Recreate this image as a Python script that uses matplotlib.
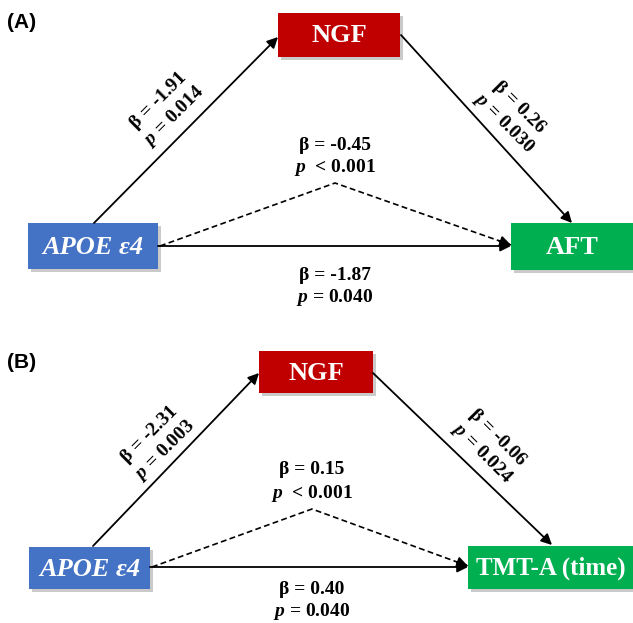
import matplotlib
matplotlib.use("Agg")
import matplotlib.pyplot as plt
from matplotlib.patches import Rectangle
import numpy as np

plt.rcParams['mathtext.fontset'] = 'custom'
plt.rcParams['mathtext.it'] = 'Liberation Serif:italic:bold'
plt.rcParams['mathtext.rm'] = 'Liberation Serif:bold'
plt.rcParams['mathtext.bf'] = 'Liberation Serif:bold'

# ---- data ----
panel_labels = ["(A)", "(B)"]
predictors = ["APOE ε4", "APOE ε4"]
mediators = ["NGF", "NGF"]
outcomes = ["AFT", "TMT-A (time)"]
a_beta = ["-1.91", "-2.31"]
a_p = ["= 0.014", "= 0.003"]
b_beta = ["0.26", "-0.06"]
b_p = ["= 0.030", "= 0.024"]
ind_beta = ["-0.45", "0.15"]
ind_p = ["< 0.001", "< 0.001"]
c_beta = ["-1.87", "0.40"]
c_p = ["= 0.040", "= 0.040"]

# ---- layout (pixel coordinates) ----
W, H = 633, 623
layout = [
    dict(lab=(7, 23), med=(278, 13, 400, 57), pre=(28, 223, 158, 269), out=(511, 223, 640, 270),
         a=((94, 223), (278, 37)), b=((401, 35), (572, 223)),
         c=((158, 246), (511, 246)), d=((160, 246), (335, 183), (511, 245)),
         ind=(335, 145), dir=(335, 275), atxt=(167, 109), btxt=(511, 116), out_fs=19),
    dict(lab=(7, 362), med=(259, 351, 373, 393), pre=(29, 547, 150, 589), out=(468, 546, 640, 589),
         a=((93, 546), (259, 373)), b=((373, 373), (552, 545)),
         c=((150, 567), (468, 567)), d=((152, 567), (312, 509), (468, 566)),
         ind=(312, 470), dir=(312, 590), atxt=(158, 443), btxt=(489, 446), out_fs=18),
]

RED = "#C00000"
BLUE = "#4472C4"
GREEN = "#00B050"

fig = plt.figure(figsize=(W / 100, H / 100), dpi=100)
ax = fig.add_axes([0, 0, 1, 1])
ax.set_xlim(0, W)
ax.set_ylim(H, 0)
ax.axis('off')

serif = 'Liberation Serif'
lab_fs = 14
box_fs = 19


def box(rect, color, text, italic=False, fs=box_fs):
    x0, y0, x1, y1 = rect
    ax.add_patch(Rectangle((x0 + 3, y0 + 3), x1 - x0, y1 - y0, facecolor='#a0a0a0',
                           edgecolor='none', alpha=0.55, zorder=1))
    ax.add_patch(Rectangle((x0, y0), x1 - x0, y1 - y0, facecolor=color, edgecolor='none', zorder=2))
    xc = (x0 + min(x1, W)) / 2
    ax.text(xc, (y0 + y1) / 2 + 1, text, color='white', fontsize=fs, fontfamily=serif,
            fontweight='bold', fontstyle='italic' if italic else 'normal',
            ha='center', va='center', zorder=3)


def arrow(p0, p1, ls='-'):
    ax.annotate('', xy=p1, xytext=p0,
                arrowprops=dict(arrowstyle='-|>', lw=1.3, color='black', linestyle=ls,
                                mutation_scale=16, shrinkA=0, shrinkB=0), zorder=4)


for i, L in enumerate(layout):
    ax.text(L['lab'][0], L['lab'][1], panel_labels[i], fontsize=15, fontweight='bold',
            fontfamily='Liberation Sans', ha='left', va='center')
    box(L['med'], RED, mediators[i])
    box(L['pre'], BLUE, predictors[i], italic=True)
    box(L['out'], GREEN, outcomes[i], fs=L['out_fs'])

    arrow(*L['a'])
    arrow(*L['b'])
    arrow(*L['c'])
    d0, d1, d2 = L['d']
    ax.plot([d0[0], d1[0], d2[0]], [d0[1], d1[1], d2[1]], color='black', lw=1.2,
            linestyle=(0, (3.5, 2)), zorder=4)
    t = 0.93
    arrow((d1[0] + t * (d2[0] - d1[0]), d1[1] + t * (d2[1] - d1[1])), d2)

    # horizontal labels
    ax.text(L['ind'][0], L['ind'][1], "β = " + ind_beta[i], fontsize=lab_fs, fontfamily=serif,
            fontweight='bold', ha='center', va='center')
    ax.text(L['ind'][0], L['ind'][1] + 23, r"$p$  " + ind_p[i], fontsize=lab_fs, fontfamily=serif,
            fontweight='bold', ha='center', va='center')
    ax.text(L['dir'][0], L['dir'][1], "β = " + c_beta[i], fontsize=lab_fs, fontfamily=serif,
            fontweight='bold', ha='center', va='center')
    ax.text(L['dir'][0], L['dir'][1] + 22, r"$p$ " + c_p[i], fontsize=lab_fs, fontfamily=serif,
            fontweight='bold', ha='center', va='center')

    # rotated labels
    ax.text(L['atxt'][0], L['atxt'][1], "β = " + a_beta[i] + "\n" + r"$p$ " + a_p[i],
            fontsize=lab_fs, fontfamily=serif, fontweight='bold', rotation=45,
            ha='center', va='center', multialignment='center', rotation_mode='anchor',
            linespacing=1.25)
    ax.text(L['btxt'][0], L['btxt'][1], "β = " + b_beta[i] + "\n" + r"$p$ " + b_p[i],
            fontsize=lab_fs, fontfamily=serif, fontweight='bold', rotation=-45,
            ha='center', va='center', multialignment='center', rotation_mode='anchor',
            linespacing=1.2)

fig.savefig('out.png', dpi=100)
